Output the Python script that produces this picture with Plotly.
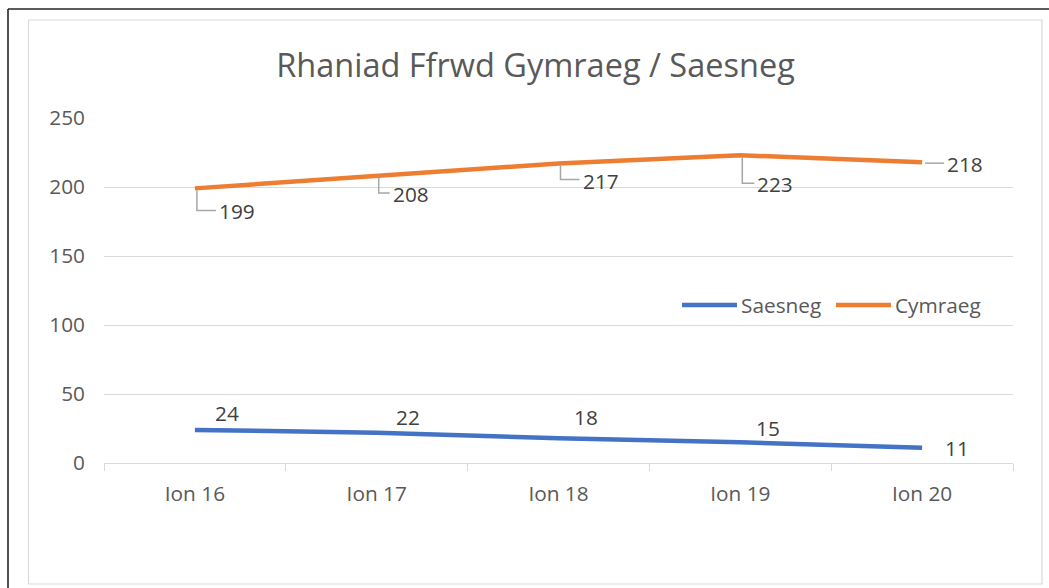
import plotly.graph_objects as go

categories = ["Ion 16", "Ion 17", "Ion 18", "Ion 19", "Ion 20"]
saesneg = [24, 22, 18, 15, 11]
cymraeg = [199, 208, 217, 223, 218]
title_text = "Rhaniad Ffrwd Gymraeg / Saesneg"

W, H = 1049, 588
L, R, T, B = 104, 36, 118, 125
PW = W - L - R
PH = H - T - B
FONT = "Open Sans, Lato, sans-serif"
BLUE = "#4472C4"
ORANGE = "#ED7D31"
GRID = "#D9D9D9"
TXT = "#595959"
LBL = "#404040"
FS = 20.8


def px(x):
    return (x - L) / PW


def py(y):
    return 1 - (y - T) / PH


fig = go.Figure()
fig.add_trace(go.Scatter(x=categories, y=saesneg, mode="lines", name="Saesneg",
                         line=dict(color=BLUE, width=4.5), hoverinfo="skip"))
fig.add_trace(go.Scatter(x=categories, y=cymraeg, mode="lines", name="Cymraeg",
                         line=dict(color=ORANGE, width=4.5), hoverinfo="skip"))

annotations = []
shapes = []

# Cymraeg labels with elbow leader lines (pixel offsets from the point)
c_offsets = [(42, -23), (34, -18), (42, -17), (35, -29), (43, -2)]
for cat, v, (dx, dy) in zip(categories, cymraeg, c_offsets):
    annotations.append(dict(x=cat, y=v, xref="x", yref="y", text=str(v), showarrow=False,
                            xshift=dx, yshift=dy, font=dict(family=FONT, size=FS, color=LBL)))
    lx = dx - 21
    if abs(dy) > 5:
        shapes.append(dict(type="path", xref="x", yref="y", xsizemode="pixel", ysizemode="pixel",
                           xanchor=cat, yanchor=v,
                           path=f"M2,-2 L2,{dy + 1} L{lx},{dy + 1}",
                           line=dict(color="#A6A6A6", width=1.5)))
    else:
        shapes.append(dict(type="line", xref="x", yref="y", xsizemode="pixel", ysizemode="pixel",
                           xanchor=cat, yanchor=v, x0=3, x1=lx, y0=dy + 1, y1=dy + 1,
                           line=dict(color="#A6A6A6", width=1.5)))

s_offsets = [(32, 17), (31, 16), (27, 21), (28, 14), (35, 0)]
for cat, v, (dx, dy) in zip(categories, saesneg, s_offsets):
    annotations.append(dict(x=cat, y=v, xref="x", yref="y", text=str(v), showarrow=False,
                            xshift=dx, yshift=dy, font=dict(family=FONT, size=FS, color=LBL)))

# manual legend
leg = [("Saesneg", BLUE, 682, 737, 739), ("Cymraeg", ORANGE, 836, 891, 893)]
for name, col, x0, x1, xt in leg:
    shapes.append(dict(type="line", xref="paper", yref="paper", x0=px(x0), x1=px(x1),
                       y0=py(305), y1=py(305), line=dict(color=col, width=4.5)))
    annotations.append(dict(x=px(xt), y=py(305), xref="paper", yref="paper", text=name,
                            showarrow=False, xanchor="left", yanchor="middle",
                            font=dict(family=FONT, size=FS, color=TXT)))

# chart area borders
shapes.append(dict(type="rect", xref="paper", yref="paper", x0=px(28.5), x1=px(1042),
                   y0=py(584), y1=py(20), line=dict(color=GRID, width=1.2), layer="below"))
shapes.append(dict(type="line", xref="paper", yref="paper", x0=px(8), x1=px(8),
                   y0=py(9), y1=py(600), line=dict(color="#262626", width=1.6)))
shapes.append(dict(type="line", xref="paper", yref="paper", x0=px(8), x1=px(1060),
                   y0=py(9), y1=py(9), line=dict(color="#262626", width=1.6)))

fig.update_layout(
    width=W, height=H,
    margin=dict(l=L, r=R, t=T, b=B),
    paper_bgcolor="white", plot_bgcolor="white",
    showlegend=False,
    title=dict(text=title_text, x=px(535.5), xref="paper", xanchor="center",
               y=1 - 66 / H, yref="container", yanchor="middle",
               font=dict(family=FONT, size=32.5, color=TXT)),
    xaxis=dict(type="category", range=[-0.5, 4.5], showgrid=False, showline=True,
               linecolor=GRID, linewidth=1.2, ticks="outside", tickson="boundaries",
               ticklen=7, tickcolor=GRID, tickwidth=1.2, ticklabelstandoff=12,
               tickfont=dict(family=FONT, size=FS, color=TXT), zeroline=False),
    yaxis=dict(range=[0, 250], dtick=50, showgrid=True, gridcolor=GRID, gridwidth=1.2,
               showline=False, zeroline=False, ticks="", ticklabelstandoff=18,
               tickfont=dict(family=FONT, size=FS, color=TXT)),
    annotations=annotations, shapes=shapes,
)

fig.write_html("out.html", config={"displayModeBar": False},
               post_script="document.body.style.margin='0';")
